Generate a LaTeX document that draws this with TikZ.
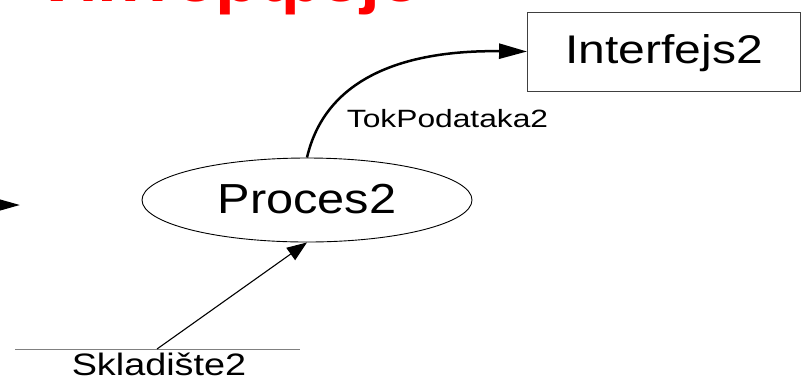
\documentclass[tikz,border=0pt]{standalone}
\usepackage{fontspec}
\setmainfont{Liberation Sans}
\usetikzlibrary{arrows.meta,shapes.geometric}
\newcommand\widen[2]{\scalebox{#1}[1]{#2}}
\tikzset{
  flowthick/.style={line width=2.5pt,-{Triangle[length=28pt,width=15pt]}},
  flowthin/.style={line width=1.1pt,-{Triangle[length=20pt,width=15pt]}},
  procshape/.style={ellipse,draw,line width=0.9pt,minimum width=330pt,minimum height=84pt,inner sep=0pt,
     font=\fontsize{42}{42}\selectfont,text height=26pt,text depth=0pt},
  ifaceshape/.style={rectangle,draw=black!75,line width=0.9pt,minimum width=273pt,minimum height=79pt,inner sep=0pt,
     font=\fontsize{40}{40}\selectfont,text height=23pt,text depth=0pt},
  plainlbl/.style={inner sep=0pt,anchor=base},
  storeline/.style={draw=black!50,line width=1pt},
}
\begin{document}
\begin{tikzpicture}[x=1pt,y=1pt]
\useasboundingbox (0,0) rectangle (802,-384);
\clip (0,0) rectangle (802,-384);
% heading (cut off at top, as in the reference)
\node[inner sep=0pt,anchor=base west,text=red,font=\fontsize{65}{65}\selectfont\bfseries] (head) at (46,-1.5) {\widen{1.1}{Интерфејс}};
% process
\node[procshape] (proc) at (307,-200) {\widen{1.16}{Proces2}};
% interface
\node[ifaceshape] (iface) at (664,-51.5) {\widen{1.2}{Interfejs2}};
% flow label
\node[plainlbl,font=\fontsize{25}{25}\selectfont] (flowlbl) at (447.5,-127) {\widen{1.27}{TokPodataka2}};
% store
\node[plainlbl,font=\fontsize{31}{31}\selectfont] (store) at (159,-375) {\widen{1.22}{Skladište2}};
\coordinate (stL) at (15,-349);
\coordinate (stR) at (300,-349);
\coordinate (stA) at (157,-349);
\draw[storeline] (stL) -- (stR);
% connectors
\draw[flowthick] (proc.north) .. controls (325,-80) and (400,-50) .. (iface.west);
\draw[flowthin] (stA) -- (proc.south);
\coordinate (offL) at (-30,-205);
\coordinate (inL) at (20,-205);
\draw[flowthick] (offL) -- (inL);
\end{tikzpicture}
\end{document}
